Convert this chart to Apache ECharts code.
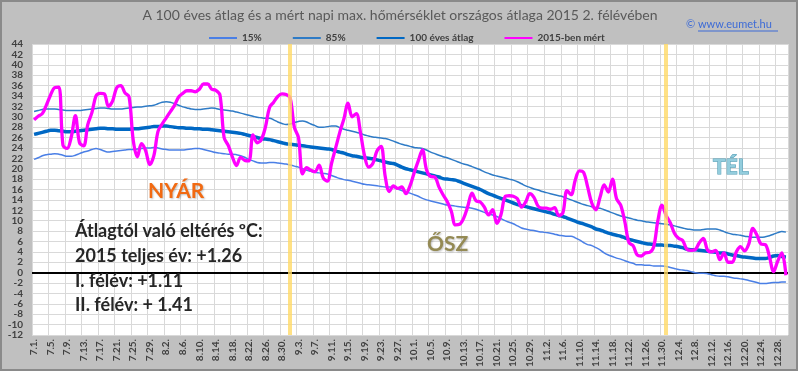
<!DOCTYPE html>
<html><head><meta charset="utf-8">
<script src="https://cdn.jsdelivr.net/npm/echarts@6/dist/echarts.min.js"></script>
<style>html,body{margin:0;padding:0;background:#fff}#c{width:800px;height:375px}</style>
</head><body><div id="c"></div>
<script>
// Day categories (1 July .. 30 Dec as on the reference axis)
const monthNums = [7, 8, 9, 10, 11, 12];
const monthLens = [31, 31, 30, 31, 30, 30];
const categories = [];
monthNums.forEach((m, k) => { for (let d = 1; d <= monthLens[k]; d++) categories.push(m + '.' + d + '.'); });

const seasonStarts = ['9.1.', '12.1.'];
const yMin = -12, yMax = 44, yStep = 2;

const seriesNames = ['15%', '85%', '100 éves átlag', '2015-ben mért'];

const p15 = [
21.8,22.1,22.5,22.7,22.8,22.9,22.8,22.6,22.4,22.4,
22.6,22.9,23.2,23.4,23.7,23.9,23.7,23.4,23.2,23.3,
23.4,23.5,23.6,23.7,23.7,23.8,23.9,24.0,24.0,24.1,
24.0,23.8,23.7,23.6,23.6,23.6,23.6,23.7,23.8,23.9,
23.9,23.7,23.5,23.3,23.1,23.0,22.9,22.8,22.8,22.7,
22.5,22.2,21.8,21.5,21.2,21.1,21.1,21.2,21.2,21.1,
21.0,20.9,20.7,20.5,20.3,20.0,19.7,19.5,19.3,19.2,
19.1,19.0,18.7,18.4,18.1,17.9,17.8,17.6,17.4,17.2,
17.0,16.9,16.8,16.7,16.6,16.5,16.5,16.4,16.1,15.8,
15.5,15.3,15.0,14.7,14.3,14.0,13.8,13.6,13.4,13.2,
13.0,12.9,12.8,12.7,12.6,12.5,12.4,12.2,11.9,11.6,
11.3,11.1,10.8,10.4,10.0,9.7,9.4,9.0,8.6,8.4,
8.2,8.1,7.9,7.8,7.7,7.6,7.4,7.2,7.1,7.0,
7.0,6.7,6.3,5.8,5.4,5.2,4.8,4.4,3.8,3.4,
3.1,2.8,2.6,2.3,2.0,1.8,1.5,1.5,1.4,1.4,
1.3,1.3,1.3,1.2,1.0,0.8,0.6,0.5,0.4,0.2,
0.0,-0.1,-0.1,-0.2,-0.4,-0.6,-0.7,-0.7,-0.8,-1.0,
-1.1,-1.2,-1.3,-1.5,-1.7,-1.9,-2.1,-2.1,-2.0,-1.9,
-1.9,-1.8,-1.8];

const p85 = [
31.0,31.2,31.4,31.5,31.5,31.5,31.4,31.3,31.2,31.2,
31.2,31.2,31.3,31.4,31.5,31.6,31.7,31.7,31.6,31.5,
31.5,31.5,31.6,31.7,31.8,31.9,31.9,32.0,32.1,32.2,
32.5,32.8,32.9,32.8,32.5,32.2,31.9,31.7,31.5,31.4,
31.4,31.5,31.6,31.7,31.6,31.4,31.3,31.2,31.1,30.9,
30.7,30.5,30.3,30.1,29.9,29.8,29.7,29.7,29.4,29.0,
28.7,28.5,28.6,28.9,29.1,29.2,29.0,28.6,28.3,28.0,
28.0,28.1,28.2,28.2,27.9,27.6,27.4,27.2,27.0,26.8,
26.5,26.3,26.1,26.0,25.9,25.8,25.6,25.3,25.0,24.7,
24.5,24.3,24.1,24.0,23.9,23.6,23.2,22.9,22.6,22.3,
22.1,21.8,21.5,21.2,20.9,20.7,20.4,20.1,19.8,19.4,
19.1,18.8,18.6,18.4,18.2,18.0,17.8,17.5,17.1,16.7,
16.4,16.1,15.9,15.6,15.4,15.2,15.0,14.8,14.6,14.3,
14.0,13.7,13.4,13.1,12.9,12.7,12.5,12.4,12.1,11.8,
11.5,11.2,10.9,10.7,10.5,10.3,10.1,10.0,9.8,9.7,
9.6,9.5,9.4,9.3,9.2,9.0,8.8,8.6,8.4,8.3,
8.2,8.2,8.3,8.4,8.4,8.4,8.2,7.9,7.6,7.4,
7.3,7.2,7.0,6.9,6.8,6.8,6.8,6.9,7.1,7.4,
7.7,7.9,7.8];

const avg100 = [
26.6,26.8,27.0,27.2,27.4,27.4,27.3,27.2,27.1,27.1,
27.2,27.3,27.4,27.5,27.6,27.7,27.8,27.8,27.7,27.7,
27.6,27.6,27.6,27.6,27.7,27.7,27.8,27.9,28.0,28.1,
28.1,28.2,28.2,28.1,28.0,27.9,27.9,27.8,27.8,27.7,
27.7,27.6,27.6,27.5,27.4,27.3,27.2,27.1,27.0,26.9,
26.8,26.6,26.4,26.2,26.0,25.8,25.7,25.6,25.4,25.2,
25.0,24.8,24.7,24.6,24.5,24.4,24.3,24.2,24.1,24.0,
23.9,23.8,23.7,23.4,23.2,23.0,22.7,22.5,22.4,22.2,
22.1,22.0,21.9,21.7,21.5,21.3,21.1,21.0,20.7,20.3,
20.0,19.8,19.6,19.4,19.2,19.0,18.8,18.6,18.4,18.1,
18.0,17.9,17.8,17.5,17.2,16.9,16.6,16.3,16.0,15.6,
15.2,14.9,14.6,14.3,14.0,13.7,13.4,13.1,12.9,12.7,
12.5,12.3,12.1,11.9,11.7,11.5,11.2,11.0,10.8,10.5,
10.2,9.9,9.6,9.4,9.1,8.8,8.4,8.2,7.9,7.6,
7.4,7.2,7.0,6.7,6.4,6.2,6.0,5.8,5.6,5.5,
5.4,5.3,5.3,5.2,5.2,5.1,5.0,4.8,4.5,4.4,
4.4,4.3,4.2,4.1,4.0,3.9,3.8,3.8,3.6,3.4,
3.3,3.1,3.0,2.9,2.8,2.7,2.7,2.7,2.9,3.2,
3.3,3.1,3.0];

const measured2015 = [
29.4,30.1,30.6,32.3,34.2,35.6,35.7,24.5,23.9,26.1,
30.2,25.0,24.4,28.5,30.8,34.0,34.5,34.4,32.0,33.0,
35.6,36.0,34.6,33.8,25.5,22.3,24.8,23.5,20.8,22.5,
27.2,28.6,29.8,31.0,32.2,33.8,34.5,35.0,35.0,34.8,
35.3,36.3,36.3,35.3,35.1,34.2,26.0,24.5,22.3,20.6,
22.2,21.6,21.5,26.5,25.0,25.6,28.0,31.8,32.8,33.9,
34.4,34.3,33.6,28.0,26.0,19.0,20.2,19.7,19.4,20.7,
18.2,17.6,21.0,24.0,27.0,29.6,32.6,30.0,30.6,27.0,
22.5,20.3,21.0,23.4,24.3,18.5,15.6,16.7,16.2,16.5,
15.2,16.7,19.2,21.5,23.6,19.8,18.5,18.4,16.5,15.0,
13.7,11.8,9.2,9.3,10.5,12.8,15.3,13.8,13.6,12.6,
11.1,12.1,9.5,11.1,14.6,14.8,14.7,14.2,12.6,13.6,
15.2,14.5,12.8,12.4,12.4,12.2,12.5,11.0,11.5,15.8,
15.0,17.8,19.6,19.3,16.5,13.4,12.1,14.5,16.9,15.5,
18.0,14.2,13.0,9.8,5.8,5.2,3.4,3.2,3.8,3.9,
5.0,10.0,13.0,11.0,9.6,7.6,6.6,6.2,4.5,4.3,
4.4,5.7,6.6,4.4,4.0,4.3,2.5,3.8,2.0,2.0,
4.0,5.0,4.2,5.5,8.5,7.2,5.5,5.4,3.1,0.2,
2.2,3.8,-0.5];

const FONT = 'Lato';
const chart = echarts.init(document.getElementById('c'), null, {renderer: 'canvas'});
chart.setOption({
  animation: false,
  backgroundColor: '#ffffff',
  textStyle: {fontFamily: FONT},
  graphic: [
    {type: 'rect', z: -10, silent: true, shape: {x: 1, y: 1, width: 796, height: 369},
     style: {fill: '#c0c0c0', stroke: '#8a8a8a', lineWidth: 2}},
    {type: 'text', z: 10, left: 'center', top: 8,
     style: {text: 'A 100 éves átlag és a mért napi max. hőmérséklet országos átlaga 2015 2. félévében',
       fill: '#595959', font: '14px Lato'}},
    {type: 'text', z: 10, x: 686, y: 19,
     style: {text: '© www.eumet.hu', fill: '#3d6bd6', font: '11px Lato'}},
    {type: 'line', z: 10, shape: {x1: 698, y1: 31, x2: 778, y2: 31}, style: {stroke: '#3d6bd6', lineWidth: 1}},
    {type: 'text', z: 10, x: 148, y: 181,
     style: {text: 'NYÁR', fill: '#f26a12', font: 'bold 21px Lato', textShadowColor: 'rgba(0,0,0,0.25)', textShadowBlur: 2, textShadowOffsetX: 1, textShadowOffsetY: 1}},
    {type: 'text', z: 10, x: 427, y: 234,
     style: {text: 'ŐSZ', fill: '#948a54', font: 'bold 21px Lato', textShadowColor: 'rgba(0,0,0,0.25)', textShadowBlur: 2, textShadowOffsetX: 1, textShadowOffsetY: 1}},
    {type: 'text', z: 10, x: 713, y: 157,
     style: {text: 'TÉL', fill: '#93cddd', stroke: '#4f9ab3', lineWidth: 1, font: 'bold 21px Lato'}},
    {type: 'text', z: 10, x: 75, y: 222,
     style: {text: 'Átlagtól való eltérés ºC:', fill: '#262626', font: 'bold 18px Lato'}},
    {type: 'text', z: 10, x: 75, y: 247,
     style: {text: '2015 teljes év: +1.26', fill: '#262626', font: 'bold 18px Lato'}},
    {type: 'text', z: 10, x: 75, y: 272,
     style: {text: 'I. félév: +1.11', fill: '#262626', font: 'bold 18px Lato'}},
    {type: 'text', z: 10, x: 75, y: 296,
     style: {text: 'II. félév: + 1.41', fill: '#262626', font: 'bold 18px Lato'}}
  ],
  legend: {
    data: seriesNames, left: 203, top: 28, itemWidth: 28, itemHeight: 10, itemGap: 30,
    itemStyle: {opacity: 0},
    textStyle: {fontFamily: FONT, fontWeight: 'bold', fontSize: 10, color: '#404040'}
  },
  grid: {left: 32, right: 12, top: 44, bottom: 40, containLabel: false,
    show: true, backgroundColor: '#ffffff', borderWidth: 0},
  xAxis: {
    type: 'category', data: categories, boundaryGap: true,
    axisLine: {show: false}, axisTick: {show: false},
    axisLabel: {interval: 3, rotate: 90, fontSize: 10, fontWeight: 'bold', color: '#404040', fontFamily: FONT, margin: 4},
    splitLine: {show: true, interval: 3, lineStyle: {color: '#d9d9d9', width: 1}}
  },
  yAxis: {
    type: 'value', min: yMin, max: yMax, interval: yStep,
    axisLine: {show: false}, axisTick: {show: false},
    axisLabel: {fontSize: 10, fontWeight: 'bold', color: '#404040', fontFamily: FONT, margin: 9},
    splitLine: {lineStyle: {color: '#d9d9d9', width: 1}}
  },
  series: [
    {name: seriesNames[0], type: 'line', data: p15, smooth: 0.4, symbol: 'none', z: 3,
     lineStyle: {color: '#4a7fe6', width: 1.5}, itemStyle: {color: '#4a7fe6'},
     markLine: {silent: true, symbol: 'none', label: {show: false}, z: 2,
       lineStyle: {color: '#000000', width: 2, type: 'solid'}, data: [{yAxis: 0}]}},
    {name: seriesNames[1], type: 'line', data: p85, smooth: 0.4, symbol: 'none', z: 3,
     lineStyle: {color: '#2e7bc6', width: 1.5}, itemStyle: {color: '#2e7bc6'}},
    {name: seriesNames[2], type: 'line', data: avg100, smooth: 0.4, symbol: 'none', z: 4,
     lineStyle: {color: '#0068c4', width: 3.5}, itemStyle: {color: '#0068c4'}},
    {name: seriesNames[3], type: 'line', data: measured2015, smooth: 0.35, symbol: 'none', z: 5,
     lineStyle: {color: '#ff00ff', width: 3.3}, itemStyle: {color: '#ff00ff'},
     markLine: {silent: true, symbol: 'none', label: {show: false}, z: 6,
       lineStyle: {color: '#ffd966', width: 4, type: 'solid', opacity: 0.8},
       data: seasonStarts.map(c => ({xAxis: c}))}}
  ]
});
</script></body></html>
